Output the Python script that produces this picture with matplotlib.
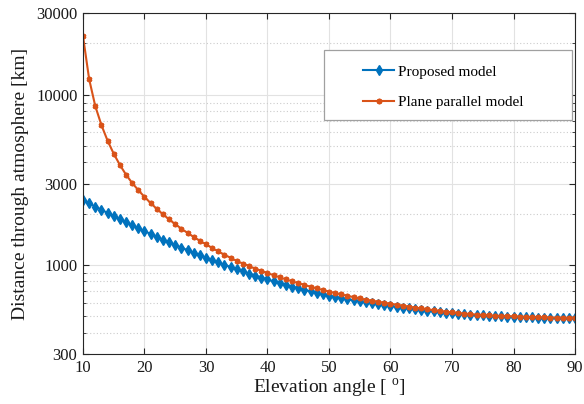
import matplotlib
matplotlib.use("Agg")
import matplotlib.pyplot as plt
from matplotlib.patches import Rectangle
from matplotlib.ticker import FixedLocator, NullFormatter

plt.rcParams['font.family'] = ['Liberation Serif', 'DejaVu Serif']
plt.rcParams['mathtext.fontset'] = 'custom'
plt.rcParams['mathtext.rm'] = 'Liberation Serif'

# Elevation angle in degrees (1-degree steps)
elevation = list(range(10, 91))

# Path length through the atmosphere [km], spherical (proposed) model
proposed = [
    2410, 2304, 2203, 2108, 2019, 1934, 1855, 1780, 1710, 1643,
    1579, 1520, 1463, 1409, 1358, 1310, 1264, 1221, 1180, 1141,
    1104, 1068, 1035, 1003, 973, 944, 917, 891, 867, 844,
    822, 801, 782, 764, 746, 730, 715, 700, 686, 673,
    661, 650, 639, 629, 619, 611, 603, 595, 588, 581,
    575, 568, 561, 555, 549, 544, 538, 533, 529, 524,
    520, 517, 513, 510, 507, 505, 502, 500, 499, 497,
    496, 495, 493, 492, 491, 490, 489, 489, 488, 488,
    487,
]

# Path length through the atmosphere [km], plane parallel model
plane_parallel = [
    22100, 12350, 8570, 6630, 5370, 4500, 3870, 3390, 3030, 2750,
    2510, 2310, 2135, 1985, 1852, 1736, 1633, 1543, 1461, 1388,
    1322, 1259, 1201, 1149, 1101, 1057, 1019, 985, 953, 923,
    896, 870, 846, 823, 802, 782, 763, 745, 728, 713,
    698, 684, 671, 659, 647, 636, 626, 617, 608, 600,
    592, 584, 577, 569, 562, 556, 549, 543, 537, 532,
    527, 522, 518, 514, 511, 508, 505, 503, 501, 500,
    499, 497, 496, 494, 493, 492, 491, 490, 490, 489,
    489,
]

x_ticks = [10, 20, 30, 40, 50, 60, 70, 80, 90]
y_ticks = [300, 1000, 3000, 10000, 30000]
y_tick_labels = ['300', '1000', '3000', '10000', '30000']
y_minor = [400, 500, 600, 700, 800, 900, 2000, 4000, 5000, 6000,
           7000, 8000, 9000, 20000]

series_labels = ['Proposed model', 'Plane parallel model']
x_label = r'Elevation angle [ $^{\mathrm{o}}$]'
y_label = 'Distance through atmosphere [km]'

blue = '#0072BD'
orange = '#D95319'
axis_color = '#262626'

fig = plt.figure(figsize=(5.84, 4.04), dpi=100)
ax = fig.add_axes([0.1421, 0.1238, 0.8425, 0.8428])

ax.plot(elevation, proposed, color=blue, lw=1.5, marker='d', ms=5.5,
        mfc=blue, mec=blue, mew=1.0, label=series_labels[0])
ax.plot(elevation, plane_parallel, color=orange, lw=1.5, marker=(6, 2, 0),
        ms=4, mec=orange, mew=1.4, label=series_labels[1])

ax.set_yscale('log')
ax.set_xlim(10, 90)
ax.set_ylim(300, 30000)
ax.set_xticks(x_ticks)
ax.set_xticklabels([str(v) for v in x_ticks])
ax.yaxis.set_major_locator(FixedLocator(y_ticks))
ax.set_yticklabels(y_tick_labels)
ax.yaxis.set_minor_locator(FixedLocator(y_minor))
ax.yaxis.set_minor_formatter(NullFormatter())

ax.grid(True, which='major', color='#e2e2e2', lw=0.8, ls='-')
ax.grid(True, which='minor', axis='y', color='#cccccc', lw=0.8, ls=(0, (1, 2)))
ax.set_axisbelow(True)

for s in ax.spines.values():
    s.set_color(axis_color)
    s.set_linewidth(0.8)

ax.tick_params(which='major', direction='in', length=4, width=0.8,
               colors=axis_color, labelcolor='#1a1a1a', labelsize=12,
               top=True, right=True, pad=4)
ax.tick_params(axis='y', which='minor', direction='in', length=2.5,
               width=0.6, colors=axis_color, right=True)

ax.set_xlabel(x_label, fontsize=14, labelpad=1, color='#1a1a1a')
ax.set_ylabel(y_label, fontsize=14, labelpad=5, color='#1a1a1a')

# Legend box drawn as a separate frame
ax.add_patch(Rectangle((0.49, 0.687), 0.504, 0.206, transform=ax.transAxes,
                       facecolor='white', edgecolor='#a0a0a0', lw=0.9,
                       zorder=5))
leg = ax.legend(loc='upper left', bbox_to_anchor=(0.545, 0.885),
                frameon=False, fontsize=11, handlelength=2.0,
                handletextpad=0.3, labelspacing=1.1, borderpad=0.3)
leg.set_zorder(6)

fig.savefig('out.png', dpi=100)
